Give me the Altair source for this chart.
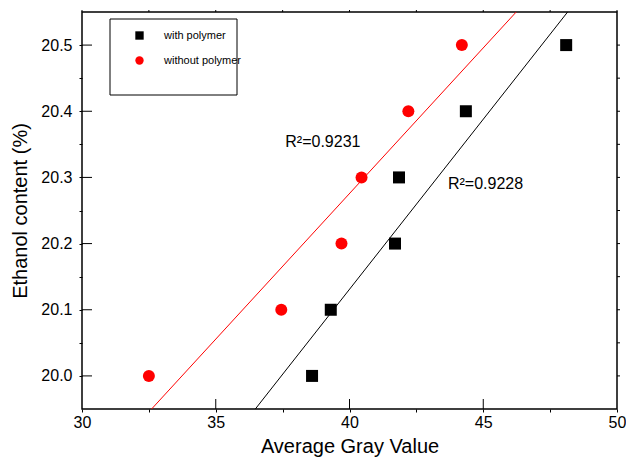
import altair as alt
import pandas as pd

# ---- data ----
ethanol = [20.0, 20.1, 20.2, 20.3, 20.4, 20.5]
gray_with = [38.6, 39.3, 41.7, 41.85, 44.35, 48.1]
gray_without = [32.5, 37.45, 39.7, 40.45, 42.2, 44.2]
series_names = ["with polymer", "without polymer"]
series_colors = ["black", "red"]
series_shapes = ["square", "circle"]

r2_labels = ["R\u00b2=0.9231", "R\u00b2=0.9228"]
r2_x = [37.6, 43.68]
r2_y = [20.346, 20.282]

x_major = [35, 40, 45]
x_all = [30, 32.5, 35, 37.5, 40, 42.5, 45, 47.5, 50]
y_major = [20.0, 20.1, 20.2, 20.3, 20.4, 20.5]
y_all = [20.0, 20.05, 20.1, 20.15, 20.2, 20.25, 20.3, 20.35, 20.4, 20.45, 20.5]

FONT = "Liberation Sans"
W, H = 535, 397
X_DOM = [30, 50]
Y_DOM = [19.95, 20.55]

df = pd.DataFrame({
    "gray": gray_with + gray_without,
    "ethanol": ethanol + ethanol,
    "series": [series_names[0]] * len(gray_with) + [series_names[1]] * len(gray_without),
})
df_r2 = pd.DataFrame({"label": r2_labels, "gray": r2_x, "ethanol": r2_y})

xscale = alt.Scale(domain=X_DOM, nice=False, zero=False)
yscale = alt.Scale(domain=Y_DOM, nice=False, zero=False)

x_axis = alt.Axis(orient="bottom", values=x_all, tickSize=3, tickColor="black",
                  labelExpr="datum.value % 5 == 0 ? datum.label : ''",
                  labelFontSize=16, labelFont=FONT, labelColor="black", labelPadding=2,
                  titleFontSize=20, titleFont=FONT, titleFontWeight="normal",
                  titleColor="black", titlePadding=6, domain=False, grid=False,
                  labelFlush=False, labelOverlap=False)
y_axis = alt.Axis(orient="left", values=y_all, tickSize=3, tickColor="black",
                  labelExpr="abs(round(datum.value*10) - datum.value*10) < 0.001 ? format(datum.value, '.1f') : ''",
                  labelFontSize=16, labelFont=FONT, labelColor="black", labelPadding=7,
                  titleFontSize=20, titleFont=FONT, titleFontWeight="normal",
                  titleColor="black", titlePadding=10, domain=False, grid=False,
                  labelFlush=False, labelOverlap=False)

base = alt.Chart(df)

# the only layer that carries axes
points = base.mark_point(filled=True, size=144, opacity=1).encode(
    x=alt.X("gray:Q", scale=xscale, title="Average Gray Value", axis=x_axis),
    y=alt.Y("ethanol:Q", scale=yscale, title="Ethanol content (%)", axis=y_axis),
    color=alt.Color("series:N", scale=alt.Scale(domain=series_names, range=series_colors),
                    legend=alt.Legend(title=None)),
    shape=alt.Shape("series:N", scale=alt.Scale(domain=series_names, range=series_shapes),
                    legend=alt.Legend(title=None)),
)

XN = alt.X("gray:Q", scale=xscale, axis=None)
YN = alt.Y("ethanol:Q", scale=yscale, axis=None)

def fit_line(name, color):
    return base.transform_filter(
        alt.datum.series == name
    ).transform_regression("gray", "ethanol", extent=X_DOM).mark_line(
        color=color, strokeWidth=1, clip=True
    ).encode(x=XN, y=YN)

line_black = fit_line(series_names[0], series_colors[0])
line_red = fit_line(series_names[1], series_colors[1])

# frame tick marks as short two-point segments (lengths in px converted to data units)
px_x = (X_DOM[1] - X_DOM[0]) / W
px_y = (Y_DOM[1] - Y_DOM[0]) / H
rows = []
tid = 0
for v in x_major:   # bottom, inward 10px
    rows += [(tid, 0, v, Y_DOM[0]), (tid, 1, v, Y_DOM[0] + 10 * px_y)]
    tid += 1
for v in x_all:     # top, outward 2px
    rows += [(tid, 0, v, Y_DOM[1]), (tid, 1, v, Y_DOM[1] + 2 * px_y)]
    tid += 1
for v in y_major:   # left, inward 10px
    rows += [(tid, 0, X_DOM[0], v), (tid, 1, X_DOM[0] + 10 * px_x, v)]
    tid += 1
for v in y_all:     # right, outward 3px
    rows += [(tid, 0, X_DOM[1], v), (tid, 1, X_DOM[1] + 3 * px_x, v)]
    tid += 1
df_ticks = pd.DataFrame(rows, columns=["tick", "k", "gray", "ethanol"])

frame_ticks = alt.Chart(df_ticks).mark_line(color="black", strokeWidth=1).encode(
    x=XN, y=YN, detail="tick:N", order="k:Q")

r2_text = alt.Chart(df_r2).mark_text(
    align="left", baseline="alphabetic", fontSize=16, font=FONT, color="black"
).encode(x=XN, y=YN, text="label:N")

legend_frame = alt.Chart(pd.DataFrame({"a": [0]})).mark_rect(
    fill="white", fillOpacity=0, stroke="black", strokeWidth=1
).encode(
    x=alt.value(28), x2=alt.value(155), y=alt.value(7), y2=alt.value(83)
)

chart = alt.layer(
    points, line_black, line_red, frame_ticks, r2_text, legend_frame
).resolve_axis(
    x="independent", y="independent"
).properties(
    width=W, height=H,
    padding={"left": 74, "top": 4, "right": 9, "bottom": 48},
    autosize=alt.AutoSizeParams(type="none"),
).configure_view(
    stroke="black", strokeWidth=1.5
).configure_legend(
    orient="none", legendX=52, legendY=18, padding=0,
    labelFontSize=11, labelFont=FONT, labelColor="black",
    symbolSize=70, rowPadding=13, labelOffset=19, symbolStrokeWidth=0,
)

chart.save("out.html", embed_options={"renderer": "svg", "actions": False})
